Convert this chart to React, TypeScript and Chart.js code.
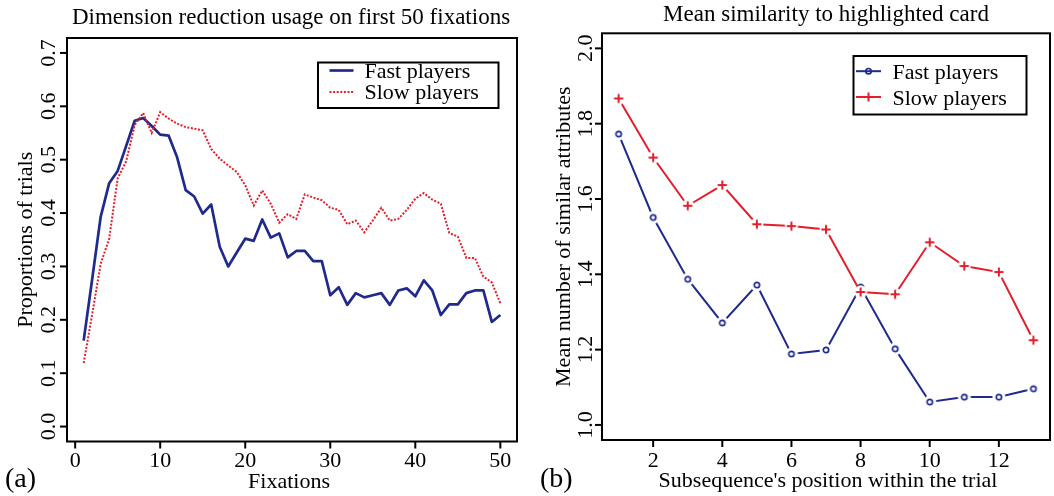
import React, { useEffect, useRef } from "react";
import { Chart, registerables } from "chart.js";

Chart.register(...registerables);

const FONT = '"Liberation Serif", "Times New Roman", serif';
const BLUE = "#1f2a8c";
const RED = "#e21f2b";

// ---- Panel (a): dimension reduction usage ----
const fixations = [
  1, 2, 3, 4, 5, 6, 7, 8, 9, 10, 11, 12, 13, 14, 15, 16, 17, 18, 19, 20, 21, 22, 23, 24, 25,
  26, 27, 28, 29, 30, 31, 32, 33, 34, 35, 36, 37, 38, 39, 40, 41, 42, 43, 44, 45, 46, 47, 48, 49, 50,
];
const fastUsage = [
  0.161, 0.276, 0.393, 0.456, 0.479, 0.526, 0.573, 0.578, 0.563, 0.547,
  0.545, 0.504, 0.443, 0.431, 0.399, 0.416, 0.337, 0.3, 0.326, 0.352,
  0.348, 0.388, 0.354, 0.362, 0.317, 0.329, 0.329, 0.31, 0.31, 0.246,
  0.261, 0.228, 0.25, 0.242, 0.246, 0.25, 0.228, 0.255, 0.259, 0.244,
  0.274, 0.255, 0.209, 0.229, 0.229, 0.25, 0.255, 0.255, 0.196, 0.209,
];
const slowUsage = [
  0.119, 0.21, 0.305, 0.352, 0.465, 0.497, 0.565, 0.5875, 0.55, 0.589,
  0.577, 0.5675, 0.561, 0.558, 0.555, 0.52, 0.502, 0.489, 0.477, 0.452,
  0.414, 0.4425, 0.4175, 0.382, 0.398, 0.389, 0.435, 0.429, 0.424, 0.41,
  0.406, 0.379, 0.386, 0.364, 0.386, 0.41, 0.386, 0.389, 0.406, 0.427,
  0.4375, 0.425, 0.4175, 0.3625, 0.356, 0.316, 0.316, 0.281, 0.27, 0.231,
];
const usageXTicks = [0, 10, 20, 30, 40, 50];
const usageYTicks = [0, 0.1, 0.2, 0.3, 0.4, 0.5, 0.6, 0.7];
const usageYLabels = ["0.0", "0.1", "0.2", "0.3", "0.4", "0.5", "0.6", "0.7"];

// ---- Panel (b): mean similarity ----
const positions = [1, 2, 3, 4, 5, 6, 7, 8, 9, 10, 11, 12, 13];
const fastSimilarity = [1.7725, 1.551, 1.387, 1.271, 1.3715, 1.1885, 1.199, 1.366, 1.202, 1.061, 1.074, 1.074, 1.096];
const slowSimilarity = [1.867, 1.71, 1.582, 1.637, 1.533, 1.528, 1.519, 1.353, 1.347, 1.485, 1.422, 1.406, 1.225];
const simXTicks = [2, 4, 6, 8, 10, 12];
const simYTicks = [1.0, 1.2, 1.4, 1.6, 1.8, 2.0];
const simYLabels = ["1.0", "1.2", "1.4", "1.6", "1.8", "2.0"];

const seriesNames = ["Fast players", "Slow players"];

type Marker = "none" | "circle" | "plus";

function drawMarker(ctx: CanvasRenderingContext2D, kind: Marker, color: string, x: number, y: number) {
  ctx.save();
  ctx.strokeStyle = color;
  if (kind === "circle") {
    ctx.lineWidth = 1.7;
    ctx.beginPath();
    ctx.arc(x, y, 2.7, 0, Math.PI * 2);
    ctx.stroke();
  } else if (kind === "plus") {
    ctx.lineWidth = 2;
    ctx.beginPath();
    ctx.moveTo(x - 4.6, y);
    ctx.lineTo(x + 4.6, y);
    ctx.moveTo(x, y - 4.6);
    ctx.lineTo(x, y + 4.6);
    ctx.stroke();
  }
  ctx.restore();
}

function markerImage(kind: Marker, color: string) {
  const c = document.createElement("canvas");
  c.width = 18;
  c.height = 18;
  const g = c.getContext("2d")!;
  g.fillStyle = "#ffffff";
  g.beginPath();
  g.arc(9, 9, 6.5, 0, Math.PI * 2);
  g.fill();
  drawMarker(g, kind, color, 9, 9);
  return c;
}

interface LegendCfg {
  box: [number, number, number, number];
  rows: number[];
  baselines: number[];
  lineX: [number, number];
  textX: number;
  items: { color: string; dash: number[]; width: number; marker: Marker }[];
}

interface DecoCfg {
  title: string;
  titleX: number;
  titleBase: number;
  xTitle: string;
  xTitleX: number;
  xTitleBase: number;
  yTitle: string;
  yTitleBaseX: number;
  xTicks: number[];
  xLabels: string[];
  xLabelBase: number;
  yTicks: number[];
  yLabels: string[];
  yLabelBaseX: number;
  panel: string;
  panelX: number;
  panelBase: number;
  legend: LegendCfg;
}

function decorations(cfg: DecoCfg) {
  return {
    id: "rDecorations",
    afterDraw(chart: any) {
      const ctx: CanvasRenderingContext2D = chart.ctx;
      const a = chart.chartArea;
      const xs = chart.scales.x;
      const ys = chart.scales.y;
      ctx.save();
      ctx.strokeStyle = "#000";
      ctx.fillStyle = "#000";
      ctx.lineWidth = 2;
      ctx.strokeRect(a.left, a.top, a.right - a.left, a.bottom - a.top);

      ctx.font = `22px ${FONT}`;
      // y ticks + labels
      cfg.yTicks.forEach((v, i) => {
        const py = ys.getPixelForValue(v);
        ctx.beginPath();
        ctx.moveTo(a.left, py);
        ctx.lineTo(a.left - 7, py);
        ctx.stroke();
        ctx.save();
        ctx.translate(cfg.yLabelBaseX, py);
        ctx.rotate(-Math.PI / 2);
        ctx.textAlign = "center";
        ctx.textBaseline = "alphabetic";
        ctx.fillText(cfg.yLabels[i], 0, 0);
        ctx.restore();
      });
      // x ticks + labels
      cfg.xTicks.forEach((v, i) => {
        const px = xs.getPixelForValue(v);
        ctx.beginPath();
        ctx.moveTo(px, a.bottom);
        ctx.lineTo(px, a.bottom + 7);
        ctx.stroke();
        ctx.textAlign = "center";
        ctx.textBaseline = "alphabetic";
        ctx.fillText(cfg.xLabels[i], px, cfg.xLabelBase);
      });
      // axis titles
      ctx.textAlign = "center";
      ctx.fillText(cfg.xTitle, cfg.xTitleX, cfg.xTitleBase);
      ctx.save();
      ctx.translate(cfg.yTitleBaseX, (a.top + a.bottom) / 2);
      ctx.rotate(-Math.PI / 2);
      ctx.fillText(cfg.yTitle, 0, 0);
      ctx.restore();
      // main title
      ctx.font = `23px ${FONT}`;
      ctx.fillText(cfg.title, cfg.titleX, cfg.titleBase);
      // panel label
      ctx.font = `28px ${FONT}`;
      ctx.textAlign = "left";
      ctx.fillText(cfg.panel, cfg.panelX, cfg.panelBase);

      // legend
      const L = cfg.legend;
      ctx.fillStyle = "#fff";
      ctx.fillRect(L.box[0], L.box[1], L.box[2], L.box[3]);
      ctx.strokeStyle = "#000";
      ctx.lineWidth = 2;
      ctx.strokeRect(L.box[0], L.box[1], L.box[2], L.box[3]);
      ctx.font = `22px ${FONT}`;
      ctx.textAlign = "left";
      L.items.forEach((it, i) => {
        const y = L.rows[i];
        ctx.save();
        ctx.strokeStyle = it.color;
        ctx.lineWidth = it.width;
        ctx.setLineDash(it.dash);
        ctx.beginPath();
        ctx.moveTo(L.lineX[0], y);
        ctx.lineTo(L.lineX[1], y);
        ctx.stroke();
        ctx.restore();
        drawMarker(ctx, it.marker, it.color, (L.lineX[0] + L.lineX[1]) / 2, y);
        ctx.fillStyle = "#000";
        ctx.fillText(seriesNames[i], L.textX, L.baselines[i]);
      });
      ctx.restore();
    },
  };
}

export default function App() {
  const leftRef = useRef<HTMLCanvasElement>(null);
  const rightRef = useRef<HTMLCanvasElement>(null);

  useEffect(() => {
    document.body.style.margin = "0";
    document.body.style.background = "#fff";

    const left = new Chart(leftRef.current!, {
      type: "line",
      data: {
        datasets: [
          {
            label: seriesNames[0],
            data: fixations.map((f, i) => ({ x: f, y: fastUsage[i] })),
            borderColor: BLUE,
            borderWidth: 2.7,
            pointRadius: 0,
            tension: 0,
            borderJoinStyle: "round",
            order: 1,
          },
          {
            label: seriesNames[1],
            data: fixations.map((f, i) => ({ x: f, y: slowUsage[i] })),
            borderColor: RED,
            borderWidth: 2,
            borderDash: [2, 1.6],
            pointRadius: 0,
            tension: 0,
            order: 0,
          },
        ],
      },
      options: {
        responsive: false,
        animation: false,
        events: [],
        layout: { padding: { left: 67, top: 38, right: 10, bottom: 54.5 } },
        scales: {
          x: { type: "linear", min: -0.96, max: 51.96, display: false },
          y: { type: "linear", min: -0.028, max: 0.728, display: false },
        },
        plugins: { legend: { display: false }, tooltip: { enabled: false } },
      },
      plugins: [
        decorations({
          title: "Dimension reduction usage on first 50 fixations",
          titleX: 291,
          titleBase: 24,
          xTitle: "Fixations",
          xTitleX: 289,
          xTitleBase: 488,
          yTitle: "Proportions of trials",
          yTitleBaseX: 32,
          xTicks: usageXTicks,
          xLabels: usageXTicks.map(String),
          xLabelBase: 466.5,
          yTicks: usageYTicks,
          yLabels: usageYLabels,
          yLabelBaseX: 55,
          panel: "(a)",
          panelX: 5,
          panelBase: 487,
          legend: {
            box: [318, 62.5, 180.5, 45.5],
            rows: [70.5, 92],
            baselines: [77.5, 99],
            lineX: [329.5, 353.5],
            textX: 364.5,
            items: [
              { color: BLUE, dash: [], width: 2.7, marker: "none" },
              { color: RED, dash: [2, 1.6], width: 2, marker: "none" },
            ],
          },
        }),
      ],
    } as any);

    const right = new Chart(rightRef.current!, {
      type: "line",
      data: {
        datasets: [
          {
            label: seriesNames[0],
            data: positions.map((p, i) => ({ x: p, y: fastSimilarity[i] })),
            borderColor: BLUE,
            borderWidth: 2,
            pointStyle: markerImage("circle", BLUE),
            pointRadius: 5,
            tension: 0,
            order: 1,
          },
          {
            label: seriesNames[1],
            data: positions.map((p, i) => ({ x: p, y: slowSimilarity[i] })),
            borderColor: RED,
            borderWidth: 2,
            pointStyle: markerImage("plus", RED),
            pointRadius: 5,
            tension: 0,
            order: 0,
          },
        ],
      },
      options: {
        responsive: false,
        animation: false,
        events: [],
        layout: { padding: { left: 75, top: 33.3, right: 2, bottom: 56 } },
        scales: {
          x: { type: "linear", min: 0.52, max: 13.48, display: false },
          y: { type: "linear", min: 0.96, max: 2.04, display: false },
        },
        plugins: { legend: { display: false }, tooltip: { enabled: false } },
      },
      plugins: [
        decorations({
          title: "Mean similarity to highlighted card",
          titleX: 299,
          titleBase: 21,
          xTitle: "Subsequence's position within the trial",
          xTitleX: 301,
          xTitleBase: 487,
          yTitle: "Mean number of similar attributes",
          yTitleBaseX: 43,
          xTicks: simXTicks,
          xLabels: simXTicks.map(String),
          xLabelBase: 466.5,
          yTicks: simYTicks,
          yLabels: simYLabels,
          yLabelBaseX: 65,
          panel: "(b)",
          panelX: 13,
          panelBase: 487,
          legend: {
            box: [326.5, 56, 173, 58.5],
            rows: [71.2, 97],
            baselines: [78.5, 104.5],
            lineX: [329, 354],
            textX: 365.5,
            items: [
              { color: BLUE, dash: [], width: 2, marker: "circle" },
              { color: RED, dash: [], width: 2, marker: "plus" },
            ],
          },
        }),
      ],
    } as any);

    return () => {
      left.destroy();
      right.destroy();
    };
  }, []);

  return (
    <div
      style={{
        position: "absolute",
        left: 0,
        top: 0,
        width: 1054,
        height: 496,
        overflow: "hidden",
        background: "#fff",
      }}
    >
      <canvas
        ref={leftRef}
        width={527}
        height={496}
        style={{ position: "absolute", left: 0, top: 0, width: 527, height: 496 }}
      />
      <canvas
        ref={rightRef}
        width={530}
        height={496}
        style={{ position: "absolute", left: 527, top: 0, width: 530, height: 496 }}
      />
    </div>
  );
}
